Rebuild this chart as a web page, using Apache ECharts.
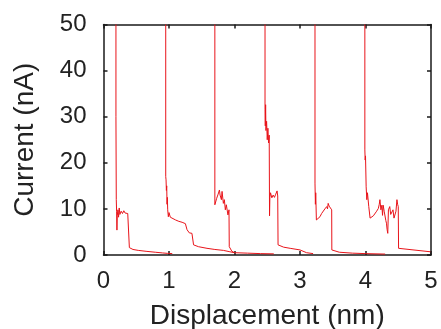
<!DOCTYPE html>
<html><head><meta charset="utf-8">
<script src="https://cdn.jsdelivr.net/npm/echarts@6/dist/echarts.min.js"></script>
<style>html,body{margin:0;padding:0;background:#fff}#c{width:441px;height:329px}</style>
</head><body><div id="c"></div>
<script>
const xTitle = 'Displacement (nm)';
const yTitle = 'Current (nA)';
const xRange = [0, 5];
const yRange = [0, 50];
const xStep = 1;
const yStep = 10;

const trace1 = [[0.19,50],[0.19,30],[0.195,12],[0.20,9.5],[0.205,5.4],[0.21,8.5],[0.22,9.8],[0.23,8.2],[0.24,10.2],[0.25,8.8],[0.27,9.5],[0.29,9.0],[0.31,9.6],[0.33,9.1],[0.35,9.4],[0.37,9.0],[0.39,9.2],[0.395,1.6],[0.45,1.2],[0.53,1.0],[0.65,0.8],[0.79,0.6],[0.9,0.45],[0.98,0.35],[1.05,0.3]];
const trace2 = [[0.95,50],[0.95,17],[0.955,16.3],[0.96,14],[0.965,15],[0.97,11],[0.975,12.5],[0.98,9.8],[0.99,8.3],[1.0,9.2],[1.02,8.2],[1.05,8.0],[1.1,7.6],[1.15,7.3],[1.2,7.1],[1.25,6.8],[1.27,6.6],[1.275,5.5],[1.30,5.3],[1.31,4.8],[1.35,4.7],[1.37,4.5],[1.375,2.2],[1.45,1.8],[1.58,1.45],[1.7,1.2],[1.83,1.0],[1.93,0.7],[2.0,0.5]];
const trace3 = [[1.70,50],[1.70,10.9],[1.728,12.3],[1.75,13.2],[1.77,14.1],[1.78,13.0],[1.80,12.0],[1.81,13.8],[1.83,11.2],[1.845,12.0],[1.86,9.8],[1.875,10.9],[1.90,8.7],[1.916,9.8],[1.92,1.8],[1.96,0.8],[2.0,0.5],[2.2,0.4],[2.4,0.3],[2.6,0.25]];
const trace4 = [[2.466,50],[2.466,31.5],[2.47,28],[2.475,32.6],[2.48,27],[2.49,29],[2.50,25],[2.51,27.5],[2.52,24.3],[2.53,26],[2.535,8.5],[2.54,12.5],[2.55,13.5],[2.57,12.4],[2.59,13.0],[2.61,12.5],[2.63,13.2],[2.65,13.9],[2.66,12.8],[2.665,2.2],[2.75,1.7],[2.85,1.45],[3.0,1.1],[3.1,0.5],[3.2,0.3]];
const trace5 = [[3.229,50],[3.229,15.6],[3.235,11],[3.24,13.5],[3.25,7.6],[3.27,8.0],[3.305,8.3],[3.33,9.0],[3.356,9.4],[3.38,10.0],[3.408,10.5],[3.42,10.0],[3.43,11.2],[3.445,10.6],[3.458,10.2],[3.47,10.6],[3.484,9.8],[3.486,1.1],[3.6,0.6],[3.8,0.4],[4.0,0.3],[4.3,0.2]];
const trace6 = [[3.99,50],[3.99,22.8],[3.995,20.6],[4.0,21.5],[4.01,14.8],[4.02,12.0],[4.03,13.5],[4.05,10.5],[4.07,8.0],[4.09,7.6],[4.12,8.5],[4.145,8.7],[4.17,9.5],[4.196,10.1],[4.21,11.0],[4.22,12.0],[4.235,9.8],[4.25,10.8],[4.26,8.6],[4.27,10.8],[4.285,9.5],[4.30,9.1],[4.31,7.5],[4.32,6.9],[4.33,5.5],[4.34,4.7],[4.35,9.8],[4.37,10.5],[4.385,8.8],[4.40,9.1],[4.42,9.8],[4.435,8.0],[4.45,8.3],[4.465,9.5],[4.48,12.0],[4.49,11.0],[4.50,10.5],[4.505,1.45],[4.99,0.7]];
const traces = [trace1, trace2, trace3, trace4, trace5, trace6];

const FONT = 'Liberation Sans, Arial, sans-serif';
const AX = '#1a1a1a';
const LINE = '#e8141a';

function xa(pos, show) {
  return {
    type: 'value', position: pos, min: xRange[0], max: xRange[1], interval: xStep,
    axisLine: {show: true, onZero: false, lineStyle: {color: AX, width: 1.5}},
    axisTick: {show: true, inside: true, length: 4, lineStyle: {color: AX, width: 1.5}},
    axisLabel: {show: show, fontSize: 24, color: '#222', margin: 14, fontFamily: FONT},
    splitLine: {show: false},
    name: show ? xTitle : '', nameLocation: 'middle', nameGap: 47,
    nameTextStyle: {fontSize: 28, color: '#222', fontFamily: FONT}
  };
}
function ya(pos, show) {
  return {
    type: 'value', position: pos, min: yRange[0], max: yRange[1], interval: yStep,
    axisLine: {show: true, onZero: false, lineStyle: {color: AX, width: 1.5}},
    axisTick: {show: true, inside: true, length: 4, lineStyle: {color: AX, width: 1.5}},
    axisLabel: {show: show, fontSize: 24, color: '#222', margin: 17, fontFamily: FONT},
    splitLine: {show: false},
    name: show ? yTitle : '', nameLocation: 'middle', nameGap: 64, nameRotate: 90,
    nameTextStyle: {fontSize: 28, color: '#222', fontFamily: FONT}
  };
}

const chart = echarts.init(document.getElementById('c'), null, {renderer: 'canvas'});
chart.setOption({
  animation: false,
  backgroundColor: '#fff',
  grid: {left: 103.5, right: 10, top: 24.5, bottom: 74, containLabel: false, outerBoundsMode: 'none'},
  xAxis: [xa('bottom', true), xa('top', false)],
  yAxis: [ya('left', true), ya('right', false)],
  series: traces.map(t => ({
    type: 'line', data: t, xAxisIndex: 0, yAxisIndex: 0,
    showSymbol: false, clip: true,
    lineStyle: {color: LINE, width: 1},
    itemStyle: {color: LINE}
  }))
});
</script></body></html>
